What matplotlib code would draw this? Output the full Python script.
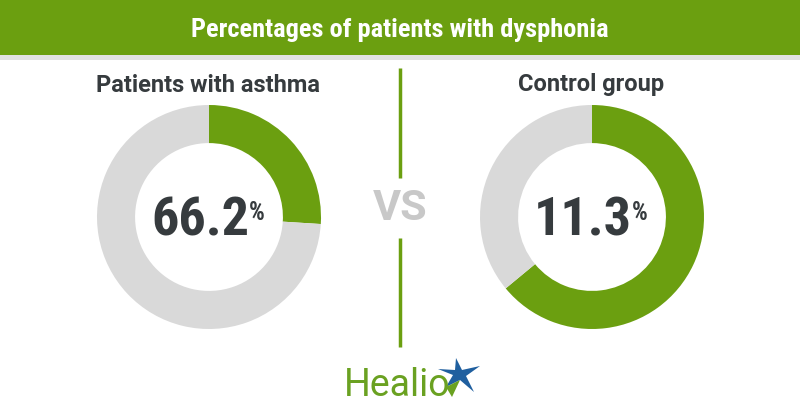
import matplotlib
matplotlib.use('Agg')
import matplotlib.pyplot as plt
from matplotlib import font_manager
from matplotlib.patches import Rectangle, Polygon

# chart data
title = 'Percentages of patients with dysphonia'
groups = ['Patients with asthma', 'Control group']
labels = ['66.2', '11.3']
# green share of each ring as drawn in the reference
ring_share = [0.26, 0.64]

GREEN = '#6b9f10'
GREY_RING = '#d9d9d9'
DARK = '#363b3e'

names = set(f.name for f in font_manager.fontManager.ttflist)
cond = 'DejaVu Sans'
for cand in ['Roboto Condensed', 'Liberation Sans Narrow', 'DejaVu Sans Condensed', 'Roboto']:
    if cand in names:
        cond = cand
        break

fig = plt.figure(figsize=(8, 4.2), dpi=100)
fig.patch.set_facecolor('white')

# background axes in pixel coordinates
bg = fig.add_axes([0, 0, 1, 1])
bg.set_xlim(0, 800)
bg.set_ylim(420, 0)
bg.axis('off')

bg.add_patch(Rectangle((0, 0), 800, 55, color=GREEN, lw=0))
bg.add_patch(Rectangle((0, 55), 800, 5, color='#e2e2e2', lw=0))
bg.text(400, 30, title, color='white', fontsize=19, fontweight='bold',
        family=cond, ha='center', va='center')

# vs divider
bg.plot([400, 400], [68, 178], color=GREEN, lw=2.5, solid_capstyle='butt')
bg.plot([400, 400], [238, 347], color=GREEN, lw=2.5, solid_capstyle='butt')
bg.text(400, 209, 'VS', color='#c8c8c8', fontsize=31, fontweight='bold',
        family='Roboto', ha='center', va='center')

# donuts
centers = [(209, 217), (592, 217)]
R = 112
for (cx, cy), grp, lab, share in zip(centers, groups, labels, ring_share):
    ax = fig.add_axes([(cx - R) / 800, (420 - cy - R) / 420, 2 * R / 800, 2 * R / 420])
    ax.pie([share, 1 - share], colors=[GREEN, GREY_RING], startangle=90,
           counterclock=False, wedgeprops=dict(width=0.34, linewidth=0))
    ax.set_xlim(-1, 1)
    ax.set_ylim(-1, 1)
    ax.set_aspect('equal')
    ax.axis('off')

    bg.text(cx - 1, 85, grp, color=DARK, fontsize=17, fontweight='bold',
            family='Roboto', ha='center', va='center')
    t = bg.text(cx - 9, 236, lab, color=DARK, fontsize=39, fontweight='bold',
                family=cond, ha='center', va='baseline')
    fig.canvas.draw()
    bb = t.get_window_extent()
    x_right = bb.x1 * 800 / fig.bbox.width
    bg.text(x_right, 201, '%', color=DARK, fontsize=18, fontweight='bold',
            family=cond, ha='left', va='top')

# Healio logo
bg.text(397, 386, 'Healio', color='#6aa121', fontsize=27, family='Roboto',
        ha='center', va='center')
star = [(456, 358), (462, 370), (480, 366), (466, 376), (474, 392),
        (460, 380), (446, 387), (453, 375), (438, 369), (455, 370)]
bg.add_patch(Polygon(star, closed=True, color='#1f5f9f', lw=0))
bg.add_patch(Polygon([(446, 387), (460, 380), (452, 397)], closed=True,
                     color='#6aa121', lw=0))

fig.savefig('out.png', dpi=100)
